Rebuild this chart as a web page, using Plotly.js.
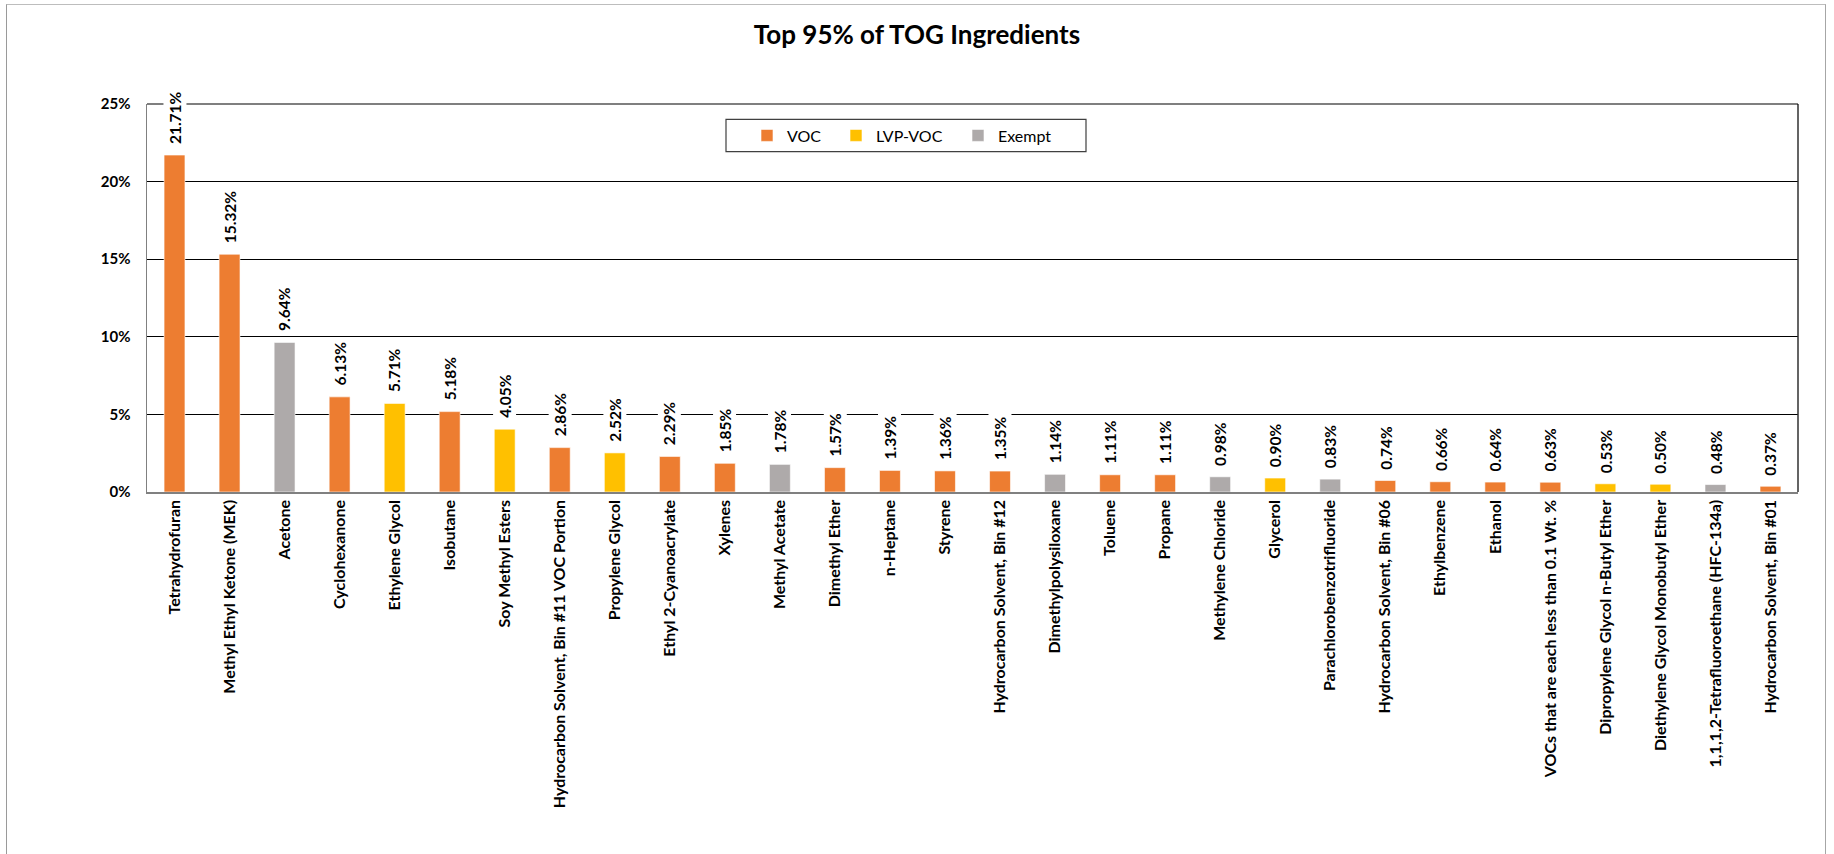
<!DOCTYPE html>
<html>
<head>
<meta charset="utf-8">
<script src="https://cdn.plot.ly/plotly-3.0.1.min.js"></script>
<style>
  html, body { margin: 0; padding: 0; background: #fff; }
  #wrap { position: relative; width: 1834px; height: 854px; }
  #chart { width: 1834px; height: 854px; }
  #frame { position: absolute; left: 6px; top: 4px; width: 1818px; height: 860px;
           border-left: 1.5px solid #9a9a9a; border-top: 1.5px solid #bdbdbd; border-right: 1.5px solid #a6a6a6;
           pointer-events: none; }
</style>
</head>
<body>
<div id="wrap">
  <div id="chart"></div>
  <div id="frame"></div>
</div>
<script>
const categories = [
  "Tetrahydrofuran", "Methyl Ethyl Ketone (MEK)", "Acetone", "Cyclohexanone", "Ethylene Glycol",
  "Isobutane", "Soy Methyl Esters", "Hydrocarbon Solvent, Bin #11 VOC Portion", "Propylene Glycol",
  "Ethyl 2-Cyanoacrylate", "Xylenes", "Methyl Acetate", "Dimethyl Ether", "n-Heptane", "Styrene",
  "Hydrocarbon Solvent, Bin #12", "Dimethylpolysiloxane", "Toluene", "Propane", "Methylene Chloride",
  "Glycerol", "Parachlorobenzotrifluoride", "Hydrocarbon Solvent, Bin #06", "Ethylbenzene", "Ethanol",
  "VOCs that are each less than 0.1 Wt. %", "Dipropylene Glycol n-Butyl Ether",
  "Diethylene Glycol Monobutyl Ether", "1,1,1,2-Tetrafluoroethane (HFC-134a)", "Hydrocarbon Solvent, Bin #01"
];
const values = [
  21.71, 15.32, 9.64, 6.13, 5.71, 5.18, 4.05, 2.86, 2.52, 2.29,
  1.85, 1.78, 1.57, 1.39, 1.36, 1.35, 1.14, 1.11, 1.11, 0.98,
  0.90, 0.83, 0.74, 0.66, 0.64, 0.63, 0.53, 0.50, 0.48, 0.37
];
const types = [
  "VOC", "VOC", "Exempt", "VOC", "LVP-VOC", "VOC", "LVP-VOC", "VOC", "LVP-VOC", "VOC",
  "VOC", "Exempt", "VOC", "VOC", "VOC", "VOC", "Exempt", "VOC", "VOC", "Exempt",
  "LVP-VOC", "Exempt", "VOC", "VOC", "VOC", "VOC", "LVP-VOC", "LVP-VOC", "Exempt", "VOC"
];
const seriesNames = ["VOC", "LVP-VOC", "Exempt"];
const seriesColors = { "VOC": "#ED7D31", "LVP-VOC": "#FFC000", "Exempt": "#AEAAAA" };
const yTickVals = [0, 5, 10, 15, 20, 25];

const FONT = "Lato, 'Open Sans', 'Liberation Sans', sans-serif";

// plot-area geometry (px) used to place the legends in paper units
const PL = 147, PR = 36, PT = 104, PB = 362, W = 1834, H = 854;
const PW = W - PL - PR, PH = H - PT - PB;
const px2x = px => (px - PL) / PW;
const px2y = py => (H - PB - py) / PH;

const legendIds = ["legend", "legend2", "legend3"];
const legendSymbolCenters = [767, 856, 978];

const traces = seriesNames.map((name, k) => {
  const xs = [], ys = [];
  categories.forEach((c, i) => { if (types[i] === name) { xs.push(c); ys.push(values[i]); } });
  return {
    type: "bar", name: name, x: xs, y: ys,
    legend: legendIds[k],
    marker: { color: seriesColors[name], line: { color: "rgba(255,255,255,0.6)", width: 1 } },
    hoverinfo: "x+y"
  };
});

const annotations = categories.map((c, i) => ({
  x: c, y: values[i], xref: "x", yref: "y",
  text: values[i].toFixed(2) + "%",
  showarrow: false, textangle: -90,
  xanchor: "center", yanchor: "bottom", yshift: 8,
  bgcolor: "#ffffff", borderpad: 2,
  font: { family: FONT, size: 15.5, color: "#000", weight: "bold" }
}));

function legendCfg(k) {
  return {
    orientation: "h", x: px2x(legendSymbolCenters[k] - 20), xanchor: "left",
    y: px2y(135.5), yanchor: "middle",
    bgcolor: "rgba(0,0,0,0)", borderwidth: 0,
    font: { family: FONT, size: 16, color: "#000" }
  };
}

const layout = {
  width: W, height: H,
  paper_bgcolor: "rgba(0,0,0,0)", plot_bgcolor: "#ffffff",
  margin: { l: PL, r: PR, t: PT, b: PB },
  title: {
    text: "Top 95% of TOG Ingredients",
    font: { family: FONT, size: 26, color: "#000", weight: "bold" },
    x: 0.5, xref: "container", y: 1 - 35 / H, yref: "container", xanchor: "center", yanchor: "middle"
  },
  barmode: "overlay",
  bargap: 0.62,
  showlegend: true,
  legend: legendCfg(0),
  legend2: legendCfg(1),
  legend3: legendCfg(2),
  xaxis: {
    type: "category", categoryorder: "array", categoryarray: categories,
    tickangle: -90, ticks: "", showgrid: false,
    showline: true, linecolor: "#808080", linewidth: 1.5,
    tickfont: { family: FONT, size: 16, color: "#000", weight: "bold" },
    fixedrange: true
  },
  yaxis: {
    range: [0, 25], tickvals: yTickVals, ticktext: yTickVals.map(v => v + "%"),
    showgrid: true, gridcolor: "#000000", gridwidth: 1,
    showline: true, linecolor: "#808080", linewidth: 1.5,
    zeroline: false, ticks: "", ticklabelstandoff: 12,
    tickfont: { family: FONT, size: 15, color: "#000", weight: "bold" },
    fixedrange: true
  },
  shapes: [
    { type: "line", xref: "paper", yref: "paper", x0: 1, x1: 1, y0: 0, y1: 1,
      line: { color: "#303030", width: 1.5 } },
    { type: "line", xref: "paper", yref: "paper", x0: 0, x1: 1, y0: 1, y1: 1,
      line: { color: "#000000", width: 1.2 } },
    { type: "rect", xref: "paper", yref: "paper", layer: "above",
      x0: px2x(726), x1: px2x(1086), y0: px2y(151.7), y1: px2y(119.3),
      fillcolor: "#ffffff", line: { color: "#404040", width: 1.2 } }
  ],
  annotations: annotations
};

Plotly.newPlot("chart", traces, layout, { displayModeBar: false, staticPlot: true });
</script>
</body>
</html>
